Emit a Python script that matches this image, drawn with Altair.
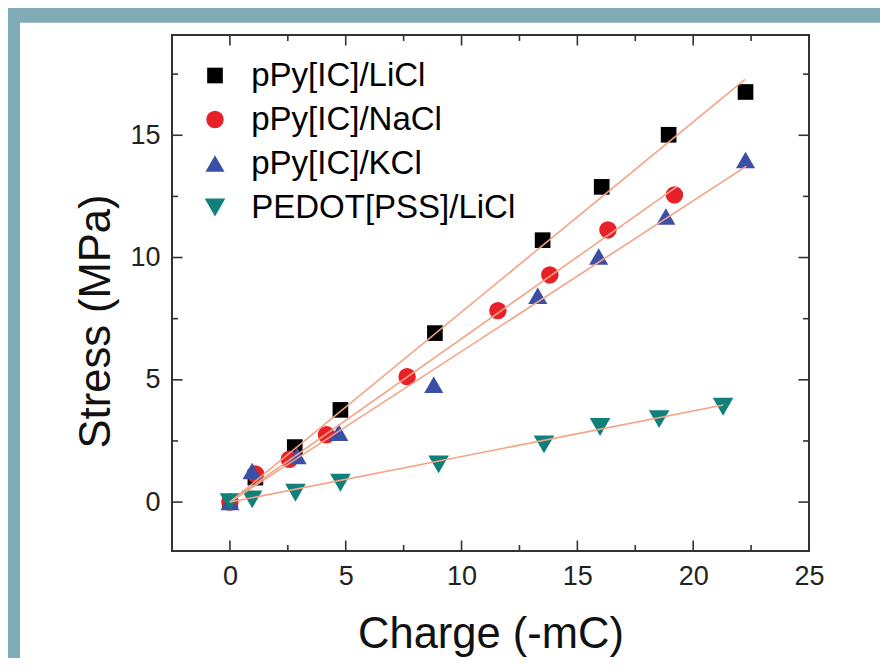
import altair as alt
import pandas as pd

# ---- data ----
series_names = ["pPy[IC]/LiCl", "pPy[IC]/NaCl", "pPy[IC]/KCl", "PEDOT[PSS]/LiCl"]

licl_charge = [0, 1.1, 2.8, 4.77, 8.85, 13.5, 16.05, 18.94, 22.26]
licl_stress = [0, 1.0, 2.25, 3.77, 6.91, 10.71, 12.89, 15.02, 16.77]

nacl_charge = [0, 1.1, 2.57, 4.17, 7.65, 11.57, 13.81, 16.32, 19.19]
nacl_stress = [0, 1.15, 1.75, 2.75, 5.13, 7.83, 9.29, 11.13, 12.56]

kcl_charge = [0, 0.96, 2.9, 4.7, 8.8, 13.29, 15.92, 18.82, 22.26]
kcl_stress = [0, 1.27, 1.89, 2.84, 4.8, 8.44, 10.04, 11.68, 13.99]

pedot_charge = [0, 0.96, 2.83, 4.77, 9.01, 13.56, 15.98, 18.53, 21.29]
pedot_stress = [0, 0.11, 0.38, 0.79, 1.54, 2.36, 3.07, 3.39, 3.90]

# linear fits: start and end points of each fitted line
fit_start_x = [0, 0, 0, 0]
fit_start_y = [0, 0, 0, 0]
fit_end_x = [22.24, 19.3, 22.3, 21.3]
fit_end_y = [17.29, 12.9, 13.74, 3.97]

x_major = [0, 5, 10, 15, 20, 25]
x_minor = [2.5, 7.5, 12.5, 17.5, 22.5]
y_major = [0, 5, 10, 15]
y_minor = [2.5, 7.5, 12.5, 17.5]

# ---- styles ----
marker_shapes = ["square", "circle", "triangle-up", "triangle-down"]
marker_colors = ["#000000", "#e8202a", "#3a4fa6", "#12807a"]
marker_size_range = [245, 425]   # point scale: evenly spaced from first to last series
fit_color = "#f5a285"
frame_color = "#7eabb5"
axis_color = "#333333"
FONT = "Liberation Sans"
W, H = 637, 516
MAJ, MIN = 10.5, 6

rows = []
for name, xs, ys in zip(series_names,
                        [licl_charge, nacl_charge, kcl_charge, pedot_charge],
                        [licl_stress, nacl_stress, kcl_stress, pedot_stress]):
    for a, b in zip(xs, ys):
        rows.append({"series": name, "charge": a, "stress": b})
points = pd.DataFrame(rows)

fit_rows = []
for name, x0, y0, x1, y1 in zip(series_names, fit_start_x, fit_start_y, fit_end_x, fit_end_y):
    fit_rows.append({"series": name, "charge": x0, "stress": y0, "order": 0})
    fit_rows.append({"series": name, "charge": x1, "stress": y1, "order": 1})
fits = pd.DataFrame(fit_rows)

xscale = alt.Scale(domain=[-2.5, 25], nice=False, zero=False)
yscale = alt.Scale(domain=[-2, 19.1], nice=False, zero=False)

legend = alt.Legend(orient="none", legendX=26.5, legendY=24, title=None,
                    labelFontSize=33, labelFont=FONT, labelColor="#000000",
                    labelOffset=19.7, labelLimit=0, rowPadding=10, padding=0,
                    symbolStrokeWidth=0, symbolOpacity=1)

x_main = alt.Axis(orient="bottom", values=x_major, title="Charge (-mC)",
                  domain=False, grid=False, ticks=False, tickSize=0, labelFlush=False,
                  labelFontSize=27, labelFont=FONT, labelColor="#222222",
                  labelPadding=12, titleFontSize=43.5, titleFont=FONT,
                  titleFontWeight="normal", titleColor="#111111",
                  titleY=83, titleBaseline="middle")
y_main = alt.Axis(orient="left", values=y_major, title="Stress (MPa)",
                  domain=False, grid=False, ticks=False, tickSize=0, labelFlush=False,
                  labelFontSize=27, labelFont=FONT, labelColor="#222222",
                  labelPadding=12, titleFontSize=43.5, titleFont=FONT,
                  titleFontWeight="normal", titleColor="#111111",
                  titleX=-76, titleY=286, titleAngle=270,
                  titleBaseline="middle", titleAlign="center")

enc_series = dict(
    color=alt.Color("series:N", scale=alt.Scale(domain=series_names, range=marker_colors), legend=legend),
    shape=alt.Shape("series:N", scale=alt.Scale(domain=series_names, range=marker_shapes), legend=legend),
    size=alt.Size("series:N", scale=alt.Scale(type="point", domain=series_names, range=marker_size_range),
                  legend=legend),
)

pts = alt.Chart(points).mark_point(filled=True, opacity=1, strokeWidth=0).encode(
    x=alt.X("charge:Q", scale=xscale, axis=x_main),
    y=alt.Y("stress:Q", scale=yscale, axis=y_main),
    **enc_series,
)

lines = alt.Chart(fits).mark_line(color=fit_color, strokeWidth=1.6).encode(
    x=alt.X("charge:Q", scale=xscale, axis=None),
    y=alt.Y("stress:Q", scale=yscale, axis=None),
    detail="series:N",
    order="order:Q",
)

# inward ticks on all four sides, placed through the shared scales
def xticks(values, y0, y1):
    return alt.Chart(pd.DataFrame({"v": values})).mark_rule(
        color=axis_color, strokeWidth=1.6).encode(
        x=alt.X("v:Q", scale=xscale, axis=None), y=alt.value(y0), y2=alt.value(y1))

def yticks(values, x0, x1):
    return alt.Chart(pd.DataFrame({"v": values})).mark_rule(
        color=axis_color, strokeWidth=1.6).encode(
        y=alt.Y("v:Q", scale=yscale, axis=None), x=alt.value(x0), x2=alt.value(x1))

tick_layers = [
    xticks(x_major, H, H - MAJ), xticks(x_minor, H, H - MIN),
    xticks(x_major, 0, MAJ), xticks(x_minor, 0, MIN),
    yticks(y_major, 0, MAJ), yticks(y_minor, 0, MIN),
    yticks(y_major, W, W - MAJ), yticks(y_minor, W, W - MIN),
]

one = pd.DataFrame({"k": [0]})
band_top = alt.Chart(one).mark_rect(color=frame_color).encode(
    x=alt.value(-164), x2=alt.value(720), y=alt.value(-27), y2=alt.value(-12.3))
band_left = alt.Chart(one).mark_rect(color=frame_color).encode(
    x=alt.value(-164), x2=alt.value(-152), y=alt.value(-27), y2=alt.value(640))

chart = alt.layer(band_top, band_left, *tick_layers, pts, lines).resolve_axis(
    x="independent", y="independent"
).properties(
    width=W, height=H,
    padding={"left": 164, "top": 27, "right": 71, "bottom": 107},
    autosize=alt.AutoSizeParams(type="none"),
    background="white",
).configure_view(stroke=axis_color, strokeWidth=2)

chart.save("out.html", embed_options={"renderer": "svg", "actions": False})
